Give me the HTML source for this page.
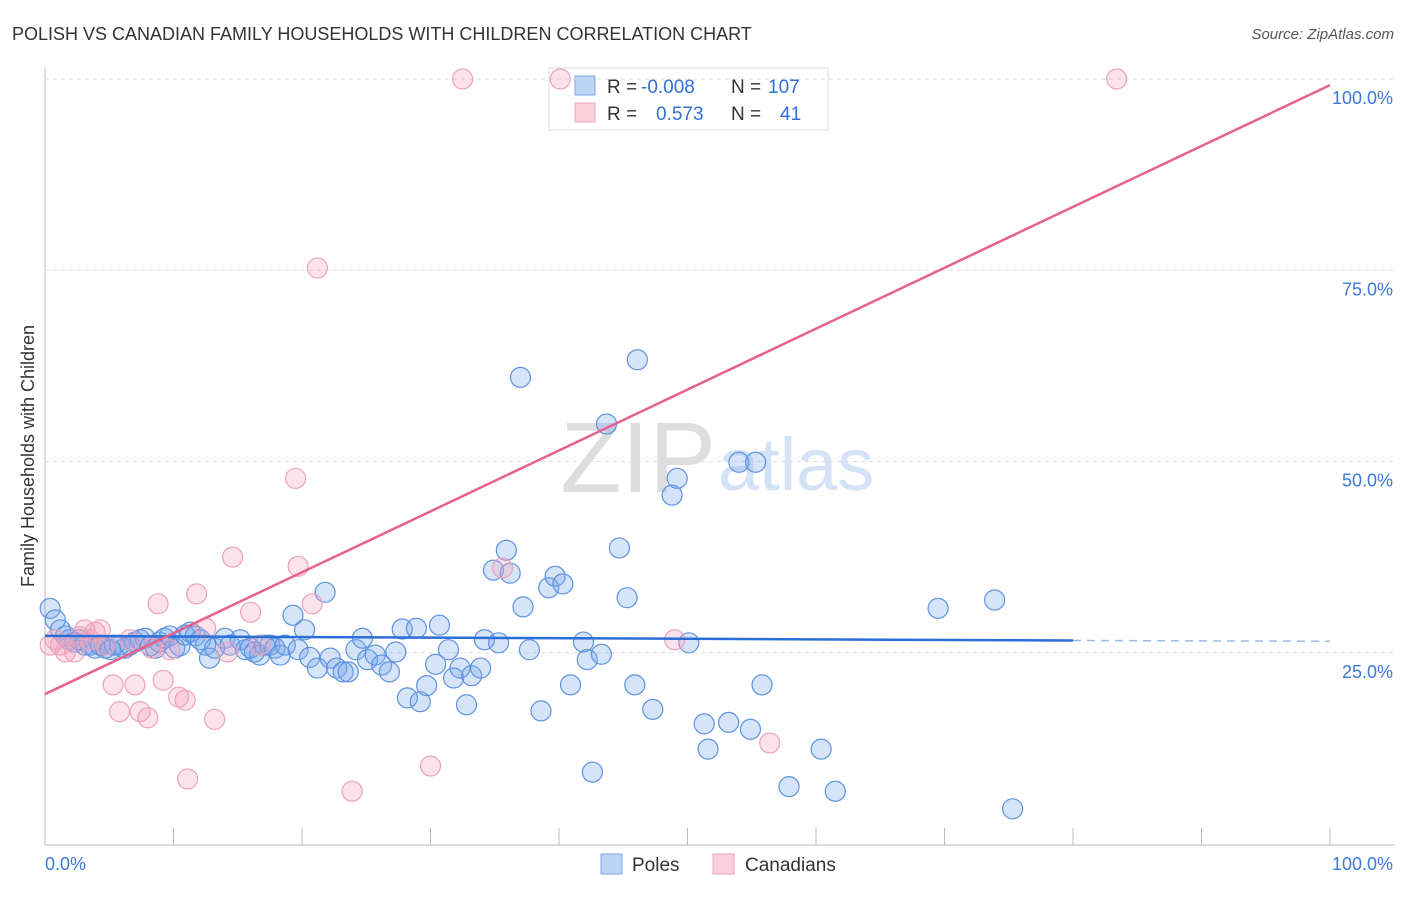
<!DOCTYPE html>
<html><head><meta charset="utf-8"><style>
body{margin:0;background:#fff;font-family:"Liberation Sans",sans-serif}
svg text{font-family:"Liberation Sans",sans-serif}
</style></head><body>
<svg id="c" width="1406" height="892">
<text x="12" y="40" font-size="18" fill="#333">POLISH VS CANADIAN FAMILY HOUSEHOLDS WITH CHILDREN CORRELATION CHART</text>
<text x="1394" y="39" font-size="15" fill="#555" font-style="italic" text-anchor="end">Source: ZipAtlas.com</text>
<text x="716" y="492" font-size="100" fill="#ddd" text-anchor="end" font-family="Liberation Serif">ZIP</text>
<text x="718" y="490" font-size="74" fill="#d4e2f6">atlas</text>
<text transform="translate(34,456) rotate(-90)" font-size="18" fill="#333" text-anchor="middle">Family Households with Children</text>
<g>
<rect x="549" y="68" width="279" height="62" fill="#fff" stroke="#ddd"/>
<rect x="575" y="76" width="20" height="19" fill="#bcd5f5" stroke="#7aa6e6"/>
<rect x="575" y="103" width="20" height="19" fill="#fbd0dd" stroke="#eda3bb"/>
<text y="93" font-size="19" fill="#333"><tspan x="607">R =</tspan><tspan x="641" fill="#2f6fd8">-0.008</tspan><tspan x="731">N =</tspan><tspan x="768" fill="#2f6fd8">107</tspan></text>
<text y="120" font-size="19" fill="#333"><tspan x="607">R =</tspan><tspan fill="#2f6fd8" x="656">0.573</tspan><tspan x="731">N =</tspan><tspan fill="#2f6fd8" x="780">41</tspan></text>
</g>
<g id="grid"></g><g id="pts"></g><g id="lines"></g>
<g>
<rect x="601" y="854" width="21" height="20" fill="#bcd5f5" stroke="#7aa6e6"/>
<text x="632" y="871" font-size="19" fill="#333">Poles</text>
<rect x="713" y="854" width="21" height="20" fill="#fbd0dd" stroke="#eda3bb"/>
<text x="745" y="871" font-size="19" fill="#333">Canadians</text>
</g>
</svg>
<script>
const yTicks=[25,50,75,100];
const yTickLabels=["25.0%","50.0%","75.0%","100.0%"];
const xTicks=[0,10,20,30,40,50,60,70,80,90,100];
const polesX=[0.4,0.8,1.2,1.6,1.9,2.3,2.7,3.1,3.5,3.9,4.3,4.7,5.1,5.4,5.8,6.2,6.6,7.0,7.4,7.8,8.2,8.6,8.9,9.3,9.7,10.1,10.5,10.9,11.3,11.7,12.1,12.5,12.8,13.2,14.0,14.4,15.2,15.6,16.0,16.3,16.7,17.1,17.5,17.9,18.3,18.7,19.3,19.7,20.2,20.6,21.2,21.8,22.2,22.7,23.2,23.6,24.2,24.7,25.1,25.7,26.2,26.8,27.3,27.8,28.2,28.9,29.2,29.7,30.4,30.7,31.4,31.8,32.3,32.8,33.2,33.9,34.2,34.9,35.3,35.9,36.2,37.0,37.2,37.7,38.6,39.2,39.7,40.3,40.9,41.9,42.2,42.6,43.3,43.7,44.7,45.3,45.9,46.1,47.3,48.8,49.2,50.1,51.3,51.6,53.2,54.0,54.9,55.3,55.8,57.9,60.4,61.5,69.5,73.9,75.3];
const polesY=[30.8,29.3,28.0,27.2,26.7,26.4,26.7,26.0,26.0,25.6,26.0,25.6,25.4,26.0,26.0,25.6,26.0,26.4,26.7,26.9,25.9,25.6,26.4,26.9,27.2,25.6,25.9,27.3,27.7,27.2,26.7,26.0,24.3,25.6,26.9,26.0,26.7,25.4,25.6,25.1,24.7,26.0,26.0,25.6,24.7,26.0,29.9,25.4,28.0,24.4,23.0,32.9,24.3,23.0,22.5,22.5,25.4,26.9,24.1,24.7,23.4,22.5,25.1,28.1,19.1,28.2,18.6,20.7,23.5,28.6,25.4,21.7,23.0,18.2,22.0,23.0,26.7,35.8,26.3,38.4,35.4,61.0,31.0,25.4,17.4,33.5,35.0,34.0,20.8,26.4,24.1,9.4,24.8,54.9,38.7,32.2,20.8,63.3,17.6,45.6,47.8,26.3,15.7,12.4,15.9,49.9,15.0,49.9,20.8,7.5,12.4,6.9,30.8,31.9,4.6];
const canX=[0.4,0.8,1.2,1.6,2.3,2.7,3.1,3.5,3.9,4.3,4.7,5.3,5.8,6.6,7.0,7.4,8.0,8.3,8.8,9.2,9.7,10.4,10.9,11.1,11.8,12.5,13.2,14.2,14.6,16.0,16.7,19.5,19.7,20.8,21.2,23.9,30.0,32.5,35.6,40.1,49.0,56.4,83.4];
const canY=[26.0,26.7,26.0,25.1,25.1,27.1,28.0,26.7,27.7,28.0,26.0,20.8,17.3,26.7,20.8,17.3,16.5,25.6,31.4,21.4,25.4,19.2,18.8,8.5,32.7,28.2,16.3,25.1,37.5,30.3,26.0,47.8,36.3,31.4,75.3,6.9,10.2,100,36.1,100,26.7,13.2,100];
const polesTrendX=[0,80,100];
const polesTrendY=[27.2,26.6,26.5];
const canTrendX=[0,100];
const canTrendY=[19.6,99.2];

const NS="http://www.w3.org/2000/svg";
const X=v=>45+v*12.85, Y=v=>844-v*7.65;
function mk(tag,attrs,parent){const e=document.createElementNS(NS,tag);for(const k in attrs)e.setAttribute(k,attrs[k]);parent.appendChild(e);return e;}
const grid=document.getElementById('grid'),pts=document.getElementById('pts'),lines=document.getElementById('lines');
let ax=mk('line',{x1:45,y1:68,x2:45,y2:845,stroke:'#bbb'},grid);


let bx=mk('line',{x1:45,y1:845,x2:1395,y2:845,stroke:'#bbb'},grid);


yTicks.forEach((t,i)=>{
 let g=mk('line',{x1:45,y1:Y(t),x2:1395,y2:Y(t),stroke:'#ddd','stroke-dasharray':'4,4'},grid);
 
 
 let tx=mk('text',{x:1393,y:Y(t)+25,'font-size':18,fill:'#3b78d8','text-anchor':'end'},grid);
 tx.textContent=yTickLabels[i];
 
 
});
xTicks.forEach(t=>{
 let l=mk('line',{x1:X(t),y1:828,x2:X(t),y2:845,stroke:'#bbb'},grid);
 
 
});
let xl=mk('text',{x:45,y:870,'font-size':18,fill:'#3b78d8'},grid);xl.textContent='0.0%';


let xr=mk('text',{x:1393,y:870,'font-size':18,fill:'#3b78d8','text-anchor':'end'},grid);xr.textContent='100.0%';


polesX.forEach((v,i)=>{
 let c=mk('circle',{cx:X(v),cy:Y(polesY[i]),r:10,fill:'rgba(120,165,235,0.3)',stroke:'#5d92e0','stroke-width':1.2},pts);
 
 
});
canX.forEach((v,i)=>{
 let c=mk('circle',{cx:X(v),cy:Y(canY[i]),r:10,fill:'rgba(245,160,190,0.3)',stroke:'#eaa3bb','stroke-width':1.2},pts);
 
 
});
let pl=mk('line',{x1:X(polesTrendX[0]),y1:Y(polesTrendY[0]),x2:X(polesTrendX[1]),y2:Y(polesTrendY[1]),stroke:'#2a6fd6','stroke-width':2.5},lines);


let pd=mk('line',{x1:X(polesTrendX[1]),y1:Y(polesTrendY[1]),x2:X(polesTrendX[2]),y2:Y(polesTrendY[2]),stroke:'#9bb8e6','stroke-width':1.5,'stroke-dasharray':'8,6'},lines);


let cl=mk('line',{x1:X(canTrendX[0]),y1:Y(canTrendY[0]),x2:X(canTrendX[1]),y2:Y(canTrendY[1]),stroke:'#e8608e','stroke-width':2.5},lines);


</script>
</body></html>
